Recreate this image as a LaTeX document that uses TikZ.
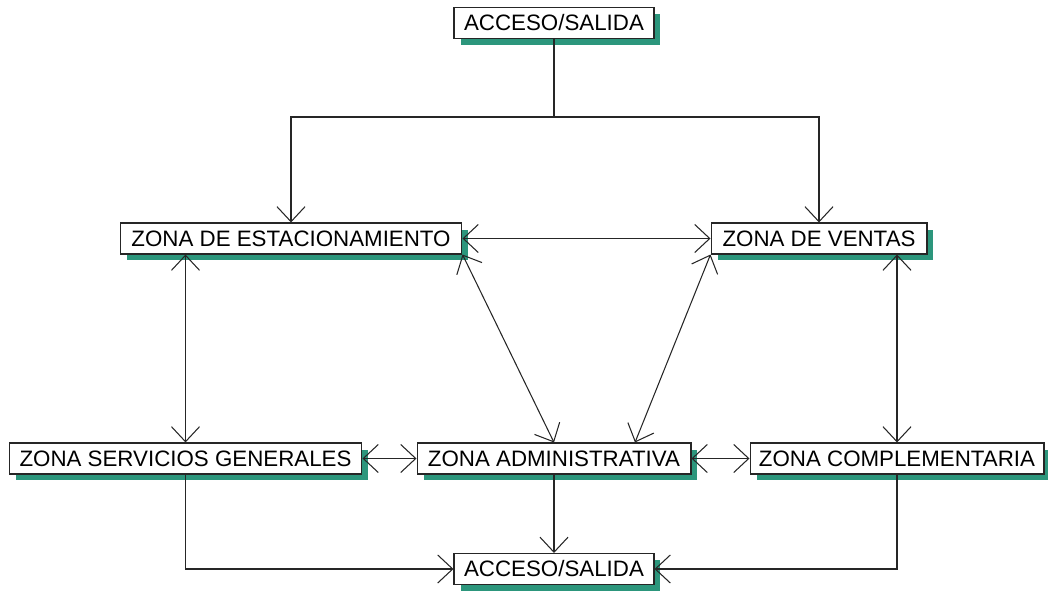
\documentclass[tikz,border=0pt]{standalone}
\usepackage{fontspec}
\setmainfont{Liberation Sans}
\usetikzlibrary{shadows}
\usetikzlibrary{calc}
\usetikzlibrary{arrows.meta}

\definecolor{sombra}{RGB}{44,150,124}

\begin{document}
\begin{tikzpicture}[x = 0.02cm, y = -0.02cm, black!85, line width = 0.6pt,
    zona/.style = {draw, fill = white, text = black, minimum height = 0.62cm, inner sep = 0pt,
        font = \fontsize{12.7}{15}\selectfont,
        drop shadow = {shadow xshift = 0.13cm, shadow yshift = -0.13cm, fill = sombra, opacity = 1}},
    >={Straight Barb[length = 0.3cm, width = 0.56cm]}]

    \useasboundingbox (0,0) rectangle (1048,591);

    % zonas
    \node (AccArriba) at (554,23) [zona, minimum width = 4cm] {ACCESO/SALIDA};
    \node (Estac) at (291,238.5) [zona, minimum width = 6.84cm] {ZONA DE ESTACIONAMIENTO};
    \node (Ventas) at (819,238.5) [zona, minimum width = 4.32cm] {ZONA DE VENTAS};
    \node (Serv) at (185.5,458.5) [zona, minimum width = 7.06cm] {ZONA SERVICIOS GENERALES};
    \node (Admin) at (554,458.5) [zona, minimum width = 5.48cm] {ZONA ADMINISTRATIVA};
    \node (Compl) at (897,458.5) [zona, minimum width = 5.88cm] {ZONA COMPLEMENTARIA};
    \node (AccAbajo) at (554,569) [zona, minimum width = 4cm] {ACCESO/SALIDA};

    \coordinate (Rama) at (554,117);
    \coordinate (AdminDer) at ($(Admin.north) + (81,0)$);

    % conexiones
    \draw (AccArriba) -- (Rama);
    \draw[->] (Rama) -| (Estac.north);
    \draw[->] (Rama) -| (Ventas.north);

    \draw[<->] (Estac.east) -- (Ventas.west);
    \draw[<->] (Estac.south -| Serv.north) -- (Serv.north);
    \draw[<->] (Ventas.south -| Compl.north) -- (Compl.north);

    \draw[<->] (Estac.south east) -- (Admin.north);
    \draw[<->] (Ventas.south west) -- (AdminDer);

    \draw[<->] (Serv.east) -- (Admin.west);
    \draw[<->] (Admin.east) -- (Compl.west);

    \draw[->] (Admin.south) -- (AccAbajo.north);
    \draw[->] (Serv.south) |- (AccAbajo.west);
    \draw[->] (Compl.south) |- (AccAbajo.east);

\end{tikzpicture}
\end{document}
